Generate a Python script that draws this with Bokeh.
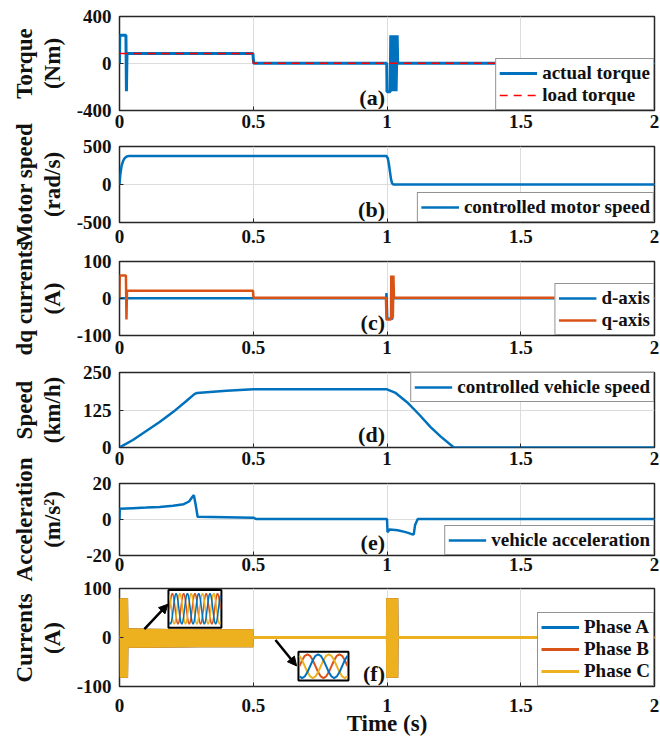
from bokeh.plotting import figure
from bokeh.layouts import column, row
from bokeh.models import Range1d, FixedTicker, Legend, LegendItem, Label, Arrow, NormalHead
from bokeh.embed import file_html
from bokeh.resources import INLINE

FONT = "Liberation Serif"
BLUE = "#0072BD"
ORANGE = "#D95319"
YELLOW = "#EDB120"
RED = "#FF0000"
DARK = "#262626"

# ---------------- data ----------------
x_ticks = [0, 0.5, 1, 1.5, 2]
x_tick_labels = ["0", "0.5", "1", "1.5", "2"]

# y-axis titles (two lines each)
y_titles = [("Torque", "(Nm)"), ("Motor speed", "(rad/s)"), ("dq currents", "(A)"),
            ("Speed", "(km/h)"), ("Acceleration", "(m/s²)"), ("Currents", "(A)")]

# (a) torque
torque_ticks = [-400, 0, 400]
torque_tick_labels = ["-400", "0", "400"]
torque_t = [0, 0.001, 0.024, 0.026, 0.028, 0.030, 0.25, 0.499, 0.5, 0.502, 0.999, 1.0, 1.012, 1.014,
            1.018, 1.022, 1.026, 1.030, 1.034, 1.038, 1.040, 2.0]
torque_actual = [0, 240, 240, -235, 85, 86, 86, 85, 40, 2, 2, -240, -240, 240,
                 -235, 240, -235, 240, -235, 240, 2, 2]
load_t = [0, 0.5, 0.5, 2.0]
load_torque = [85, 85, 2, 2]

# (b) motor speed
motor_ticks = [-500, 0, 500]
motor_tick_labels = ["-500", "0", "500"]
motor_t = [0, 0.003, 0.008, 0.014, 0.02, 0.028, 0.036, 0.998, 1.003, 1.007, 1.011, 1.015, 1.019, 1.024, 2.0]
motor_speed = [0, 130, 250, 315, 350, 370, 375, 375, 345, 270, 170, 70, 15, 0, 0]

# (c) dq currents
dq_ticks = [-100, 0, 100]
dq_tick_labels = ["-100", "0", "100"]
d_t = [0, 0.5, 0.997, 0.998, 1.001, 1.02, 1.022, 2.0]
d_axis = [1, 1, 1, 15, -55, -55, 1, 1]
q_t = [0, 0.001, 0.024, 0.026, 0.028, 0.03, 0.499, 0.5, 0.501, 0.996, 0.998, 1.015, 1.016,
       1.018, 1.020, 1.022, 1.024, 1.026, 2.0]
q_axis = [3, 62, 62, -57, 20, 21, 21, 10, 2, 2, -57, -57, 62,
          -55, 62, -50, 62, 2, 2]

# (d) vehicle speed
veh_ticks = [0, 125, 250]
veh_tick_labels = ["0", "125", "250"]
veh_t = [0, 0.05, 0.1, 0.15, 0.2, 0.25, 0.28, 0.29, 0.35, 0.4, 0.5, 1.0, 1.03, 1.075, 1.12,
         1.163, 1.2, 1.25, 2.0]
veh_speed = [0, 25, 55, 85, 118, 155, 178, 182, 186, 189, 194, 194, 183, 151, 110,
             68, 37, 0, 0]

# (e) acceleration
acc_ticks = [-20, 0, 20]
acc_tick_labels = ["-20", "0", "20"]
acc_t = [0, 0.001, 0.05, 0.1, 0.15, 0.2, 0.24, 0.26, 0.272, 0.278, 0.285, 0.292, 0.5, 0.51,
         1.0, 1.002, 1.01, 1.04, 1.07, 1.09, 1.1, 1.105, 1.115, 2.0]
acc_val = [0, 6, 6.3, 6.6, 7, 7.6, 8.5, 10, 12.5, 13.5, 8, 1.5, 1, 0.3,
           0.3, -7, -5.5, -6, -7, -8, -8.3, -3, 0.3, 0.3]

# (f) phase currents (envelope of the fast oscillation)
cur_ticks = [-100, 0, 100]
cur_tick_labels = ["-100", "0", "100"]
cur_t = [0, 0.001, 0.032, 0.033, 0.1, 0.3, 0.5, 0.501, 0.996, 0.997, 1.042, 1.043, 2.0]
cur_upper = [0, 80, 80, 19, 18, 17, 17, 2, 2, 80, 80, 1, 1]
cur_lower = [0, -82, -82, -21, -21, -20, -20, -2, -2, -82, -82, -1, -1]
phase_names = ["Phase A", "Phase B", "Phase C"]

# normalised one-cycle sample of a sinusoid used for the zoom insets
wave_cycle = [0.0, 0.5, 0.87, 1.0, 0.87, 0.5, 0.0, -0.5, -0.87, -1.0, -0.87, -0.5]

# panel geometry (height, top border, bottom border, x-label standoff)
panel_heights = [136, 115, 111, 111, 105, 160]
panel_tops = [16, 10, 10, 10, 10, 10]
panel_bottoms = [26, 29, 27, 26, 23, 51]
x_standoffs = [4, 7, 5, 4, 2, 12]


# ---------------- helpers ----------------
def make_fig(i, yr, yticks, ylabels):
    p = figure(width=590, height=panel_heights[i], x_range=Range1d(0, 2), y_range=Range1d(*yr),
               output_backend="svg", toolbar_location=None,
               min_border_left=49, min_border_right=6, min_border_top=panel_tops[i],
               min_border_bottom=panel_bottoms[i])
    p.background_fill_color = "white"
    p.border_fill_color = "white"
    p.outline_line_color = DARK
    p.outline_line_width = 1.5
    p.outline_line_alpha = 1.0

    p.xaxis.ticker = FixedTicker(ticks=x_ticks)
    p.xaxis.major_label_overrides = dict(zip(x_ticks, x_tick_labels))
    p.yaxis.ticker = FixedTicker(ticks=yticks)
    p.yaxis.major_label_overrides = dict(zip(yticks, ylabels))
    for ax in (p.xaxis, p.yaxis):
        ax.axis_line_color = None
        ax.major_tick_in = 4
        ax.major_tick_out = 0
        ax.major_tick_line_color = DARK
        ax.minor_tick_line_color = None
        ax.major_label_text_font = FONT
        ax.major_label_text_font_style = "bold"
        ax.major_label_text_font_size = "19px"
        ax.major_label_text_color = "#111111"
    p.xaxis.major_label_standoff = x_standoffs[i]
    p.yaxis.major_label_standoff = 8

    p.grid.grid_line_color = "#dcdcdc"
    p.grid.grid_line_width = 1
    return p


def add_legend(p, items, location):
    leg = Legend(items=items, location=location)
    leg.margin = 0
    leg.padding = 3
    leg.spacing = 0
    leg.label_height = 20
    leg.glyph_height = 20
    leg.glyph_width = 38
    leg.label_standoff = 5
    leg.border_line_color = DARK
    leg.border_line_width = 1.5
    leg.background_fill_color = "white"
    leg.background_fill_alpha = 1.0
    leg.label_text_font = FONT
    leg.label_text_font_style = "bold"
    leg.label_text_font_size = "19px"
    leg.label_text_color = "#111111"
    p.add_layout(leg)


def add_tag(p, text, ymin):
    p.add_layout(Label(x=1.0, y=ymin, x_offset=-2, y_offset=1, text=text,
                       text_align="right", text_baseline="bottom",
                       text_font=FONT, text_font_style="bold",
                       text_font_size="22px", text_color="#111111"))


# ---------------- (a) ----------------
pa = make_fig(0, (-400, 400), torque_ticks, torque_tick_labels)
ra = pa.line(torque_t, torque_actual, line_color=BLUE, line_width=3)
rl = pa.line(load_t, load_torque, line_color=RED, line_width=1.5, line_dash="8 6")
add_legend(pa, [LegendItem(label="actual torque", renderers=[ra]),
                LegendItem(label="load torque", renderers=[rl])], "bottom_right")
add_tag(pa, "(a)", -400)

# ---------------- (b) ----------------
pb = make_fig(1, (-500, 500), motor_ticks, motor_tick_labels)
rb = pb.line(motor_t, motor_speed, line_color=BLUE, line_width=2.5)
add_legend(pb, [LegendItem(label="controlled motor speed", renderers=[rb])], "bottom_right")
add_tag(pb, "(b)", -500)

# ---------------- (c) ----------------
pc = make_fig(2, (-100, 100), dq_ticks, dq_tick_labels)
rd = pc.line(d_t, d_axis, line_color=BLUE, line_width=2.5)
rq = pc.line(q_t, q_axis, line_color=ORANGE, line_width=2.5)
add_legend(pc, [LegendItem(label="d-axis", renderers=[rd]),
                LegendItem(label="q-axis", renderers=[rq])], "bottom_right")
add_tag(pc, "(c)", -100)

# ---------------- (d) ----------------
pd_ = make_fig(3, (0, 250), veh_ticks, veh_tick_labels)
rv = pd_.line(veh_t, veh_speed, line_color=BLUE, line_width=2.5)
add_legend(pd_, [LegendItem(label="controlled vehicle speed", renderers=[rv])], "top_right")
add_tag(pd_, "(d)", 0)

# ---------------- (e) ----------------
pe = make_fig(4, (-20, 20), acc_ticks, acc_tick_labels)
re_ = pe.line(acc_t, acc_val, line_color=BLUE, line_width=2.5)
add_legend(pe, [LegendItem(label="vehicle acceleration", renderers=[re_])], "bottom_right")
add_tag(pe, "(e)", -20)

# ---------------- (f) ----------------
pf = make_fig(5, (-100, 100), cur_ticks, cur_tick_labels)
pf.xaxis.axis_label = "Time (s)"
pf.xaxis.axis_label_text_font = FONT
pf.xaxis.axis_label_text_font_style = "bold"
pf.xaxis.axis_label_text_font_size = "23px"
pf.xaxis.axis_label_text_color = "#111111"
pf.xaxis.axis_label_standoff = -4
phase_colors = [BLUE, ORANGE, YELLOW]
phase_lines = []
for name, col in zip(phase_names, phase_colors):
    pf.varea(x=cur_t, y1=cur_lower, y2=cur_upper, fill_color=col, fill_alpha=1.0)
    phase_lines.append(pf.line(x=[0, 2], y=[0, 0], line_color=col, line_width=3))


def inset(p, x0, x1, y0, y1, cycles, width):
    p.quad(left=[x0], right=[x1], bottom=[y0], top=[y1], fill_color="white",
           line_color="black", line_width=2)
    n = len(wave_cycle)
    total = int(round(cycles * n)) + 1
    ymid = (y0 + y1) / 2
    amp = (y1 - y0) / 2 * 0.82
    for k, col in enumerate([ORANGE, YELLOW, BLUE]):
        xs = [x0 + (x1 - x0) * 0.02 + (x1 - x0) * 0.96 * i / (total - 1) for i in range(total)]
        ys = [ymid + amp * wave_cycle[(i + k * n // 3) % n] for i in range(total)]
        p.line(xs, ys, line_color=col, line_width=width)


inset(pf, 0.183, 0.381, 20, 97, 4.5, 1.5)
inset(pf, 0.669, 0.856, -88, -29, 1.5, 2)
pf.add_layout(Arrow(end=NormalHead(size=9, fill_color="black", line_color="black"),
                    x_start=0.093, y_start=17, x_end=0.181, y_end=68,
                    line_color="black", line_width=2.5))
pf.add_layout(Arrow(end=NormalHead(size=9, fill_color="black", line_color="black"),
                    x_start=0.583, y_start=-5, x_end=0.662, y_end=-58,
                    line_color="black", line_width=2.5))
add_legend(pf, [LegendItem(label=n_, renderers=[r]) for n_, r in zip(phase_names, phase_lines)],
           "bottom_right")
add_tag(pf, "(f)", -100)

# ---------------- y-axis titles column ----------------
total_h = sum(panel_heights)
lab = figure(width=70, height=total_h, x_range=Range1d(0, 70),
             y_range=Range1d(total_h, 0), output_backend="svg",
             toolbar_location=None, x_axis_location=None, y_axis_location=None,
             min_border=0, min_border_left=0, min_border_right=0,
             min_border_top=0, min_border_bottom=0)
lab.outline_line_color = None
lab.grid.visible = False
lab.background_fill_color = "white"
lab.border_fill_color = "white"
y0 = 0
for (l1, l2), h, t, b in zip(y_titles, panel_heights, panel_tops, panel_bottoms):
    yc = y0 + t + (h - t - b) / 2
    for xc, txt in ((24, l1), (52, l2)):
        lab.add_layout(Label(x=xc, y=yc, text=txt, angle=90, angle_units="deg",
                             text_align="center", text_baseline="middle",
                             text_font=FONT, text_font_style="bold",
                             text_font_size="23px", text_color="#111111"))
    y0 += h

layout = row(lab, column(pa, pb, pc, pd_, pe, pf, spacing=0), spacing=0)
open("out.html", "w").write(file_html(layout, INLINE))
